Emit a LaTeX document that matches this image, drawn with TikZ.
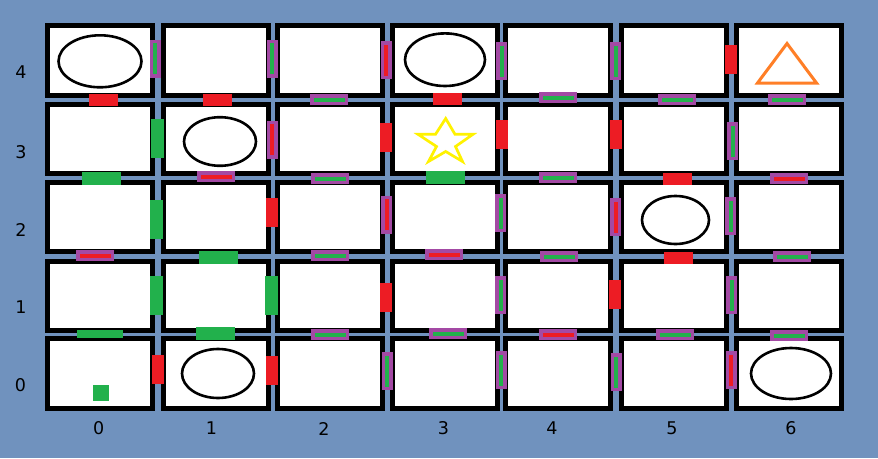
\documentclass[tikz,border=0pt]{standalone}
\usepackage{fontspec}
\setmainfont{DejaVu Sans}
\definecolor{bg}{HTML}{7092BE}
\definecolor{pred}{HTML}{ED1C24}
\definecolor{pgreen}{HTML}{22B14C}
\definecolor{ppurple}{HTML}{A349A4}
\definecolor{porange}{HTML}{FF7F27}
\definecolor{pyellow}{HTML}{FFF200}
\begin{document}
\begin{tikzpicture}[x=1pt,y=-1pt,
  cell/.style={draw=black, fill=white, line width=5pt, minimum width=105pt, minimum height=69.5pt, inner sep=0pt, outer sep=0pt},
  vR/.style={fill=pred, minimum width=12pt, minimum height=29pt, inner sep=0pt},
  hR/.style={fill=pred, minimum width=29pt, minimum height=12pt, inner sep=0pt},
  vG/.style={fill=pgreen, minimum width=13pt, minimum height=39pt, inner sep=0pt},
  hG/.style={fill=pgreen, minimum width=39pt, minimum height=13pt, inner sep=0pt},
  vPG/.style={fill=pgreen, draw=ppurple, line width=3.5pt, minimum width=7.5pt, minimum height=34.5pt, inner sep=0pt},
  hPG/.style={fill=pgreen, draw=ppurple, line width=3.5pt, minimum width=34.5pt, minimum height=7.5pt, inner sep=0pt},
  vPR/.style={fill=pred, draw=ppurple, line width=3.5pt, minimum width=7.5pt, minimum height=34.5pt, inner sep=0pt},
  hPR/.style={fill=pred, draw=ppurple, line width=3.5pt, minimum width=34.5pt, minimum height=7.5pt, inner sep=0pt},
  lab/.style={font=\fontsize{17.5}{20}\selectfont, text=black, inner sep=0pt},
  oval/.style={draw=black, line width=2.6pt}]
\fill[bg] (0,0) rectangle (878,458);
\useasboundingbox (0,0) rectangle (878,458);
% cells
\foreach \cx [count=\i from 0] in {99.5,215.5,329.5,444.5,558,674,788.5} {
  \foreach \cy [count=\j from 0] in {373.25,295.75,216.75,138.75,60.25} {
    \node[cell] (cell-\i-\j) at (\cx,\cy) {};
  }
}
% row labels
\node[lab] (rl4) at (21,72.5) {4};
\node[lab] (rl3) at (21,152) {3};
\node[lab] (rl2) at (21,229.7) {2};
\node[lab] (rl1) at (21,307) {1};
\node[lab] (rl0) at (20.5,385.3) {0};
% column labels
\node[lab] (cl0) at (98.8,428.5) {0};
\node[lab] (cl1) at (211.5,428.5) {1};
\node[lab] (cl2) at (324,428.5) {2};
\node[lab] (cl3) at (443.5,428.5) {3};
\node[lab] (cl4) at (552,428.5) {4};
\node[lab] (cl5) at (672,428.5) {5};
\node[lab] (cl6) at (791,428.5) {6};
% symbols
\draw[oval] (100,61.3) ellipse [x radius=41.5pt, y radius=26pt];
\draw[oval] (445,59.7) ellipse [x radius=40pt, y radius=26.3pt];
\draw[oval] (220,141.5) ellipse [x radius=36pt, y radius=24.3pt];
\draw[oval] (675.5,220) ellipse [x radius=33.5pt, y radius=24pt];
\draw[oval] (218,373.5) ellipse [x radius=36pt, y radius=24.5pt];
\draw[oval] (791,373.5) ellipse [x radius=40pt, y radius=25.5pt];
\draw[porange, line width=3pt] (787,43.5) -- (816.5,83) -- (757.5,83) -- cycle;
\draw[pyellow, line width=2.7pt, line join=miter]
  (445.7,118.5) -- (455,134.3) -- (473,134.3) -- (455.5,146.5) -- (462.5,161.5)
  -- (445.7,151.5) -- (428.5,161.5) -- (436.5,146.5) -- (418,134.3) -- (435.5,134.3) -- cycle;
\fill[pgreen] (92.7,385) rectangle (109,401);
% vertical bars between columns
\node[vPG] (b40) at (155.3,58.8) {};
\node[vPG] (b41) at (272.3,58.8) {};
\node[vPR] (b42) at (386.3,60) {};
\node[vPG] (b43) at (501.5,61) {};
\node[vPG] (b44) at (615.5,61) {};
\node[vR]  (b45) at (731,59.3) {};
\node[vG]  (b30) at (157.3,138.3) {};
\node[vPR] (b31) at (272.2,139.8) {};
\node[vR]  (b32) at (386,137.3) {};
\node[vR]  (b33) at (501.8,134.5) {};
\node[vR]  (b34) at (615.8,134.5) {};
\node[vPG] (b35) at (732.5,141) {};
\node[vG]  (b20) at (156.3,219.5) {};
\node[vR]  (b21) at (271.8,212.5) {};
\node[vPR] (b22) at (386.5,214.7) {};
\node[vPG] (b23) at (500.5,213) {};
\node[vPR] (b24) at (615.5,217) {};
\node[vPG] (b25) at (730.5,216) {};
\node[vG]  (b10) at (156.3,295.5) {};
\node[vG]  (b11) at (271.5,295.5) {};
\node[vR]  (b12) at (385.8,297.5) {};
\node[vPG] (b13) at (500.5,295) {};
\node[vR]  (b14) at (614.8,294.3) {};
\node[vPG] (b15) at (731.5,295) {};
\node[vR]  (b00) at (157.8,369.3) {};
\node[vR]  (b01) at (271.8,370.3) {};
\node[vPG] (b02) at (387.3,371) {};
\node[vPG] (b03) at (501.3,370) {};
\node[vPG] (b04) at (616.3,372) {};
\node[vPR] (b05) at (731.3,370) {};
% horizontal bars between rows
\node[hR]  (d40) at (103.5,99.8) {};
\node[hR]  (d41) at (217.5,99.8) {};
\node[hPG] (d42) at (329,99.5) {};
\node[hR]  (d43) at (447.3,98.8) {};
\node[hPG] (d44) at (558,97.5) {};
\node[hPG] (d45) at (677,99.5) {};
\node[hPG] (d46) at (787,99.5) {};
\node[hG]  (d30) at (101.5,178.5) {};
\node[hPR] (d31) at (216,176.5) {};
\node[hPG] (d32) at (330,178.5) {};
\node[hG]  (d33) at (445.3,177.3) {};
\node[hPG] (d34) at (558,177.5) {};
\node[hR]  (d35) at (677.5,179) {};
\node[hPR] (d36) at (789,178.5) {};
\node[hPR] (d20) at (95,255.5) {};
\node[hG]  (d21) at (218.5,257.5) {};
\node[hPG] (d22) at (330,255.5) {};
\node[hPR] (d23) at (444,254.5) {};
\node[hPG] (d24) at (559,256.5) {};
\node[hR]  (d25) at (678.5,258) {};
\node[hPG] (d26) at (792,256.5) {};
\node[hG, minimum width=46pt, minimum height=8pt] (d10) at (100,334) {};
\node[hG]  (d11) at (215.5,333.5) {};
\node[hPG] (d12) at (330,334.5) {};
\node[hPG] (d13) at (448,333.5) {};
\node[hPR] (d14) at (558,334.5) {};
\node[hPG] (d15) at (675,334.5) {};
\node[hPG] (d16) at (789,335.5) {};
\end{tikzpicture}
\end{document}
